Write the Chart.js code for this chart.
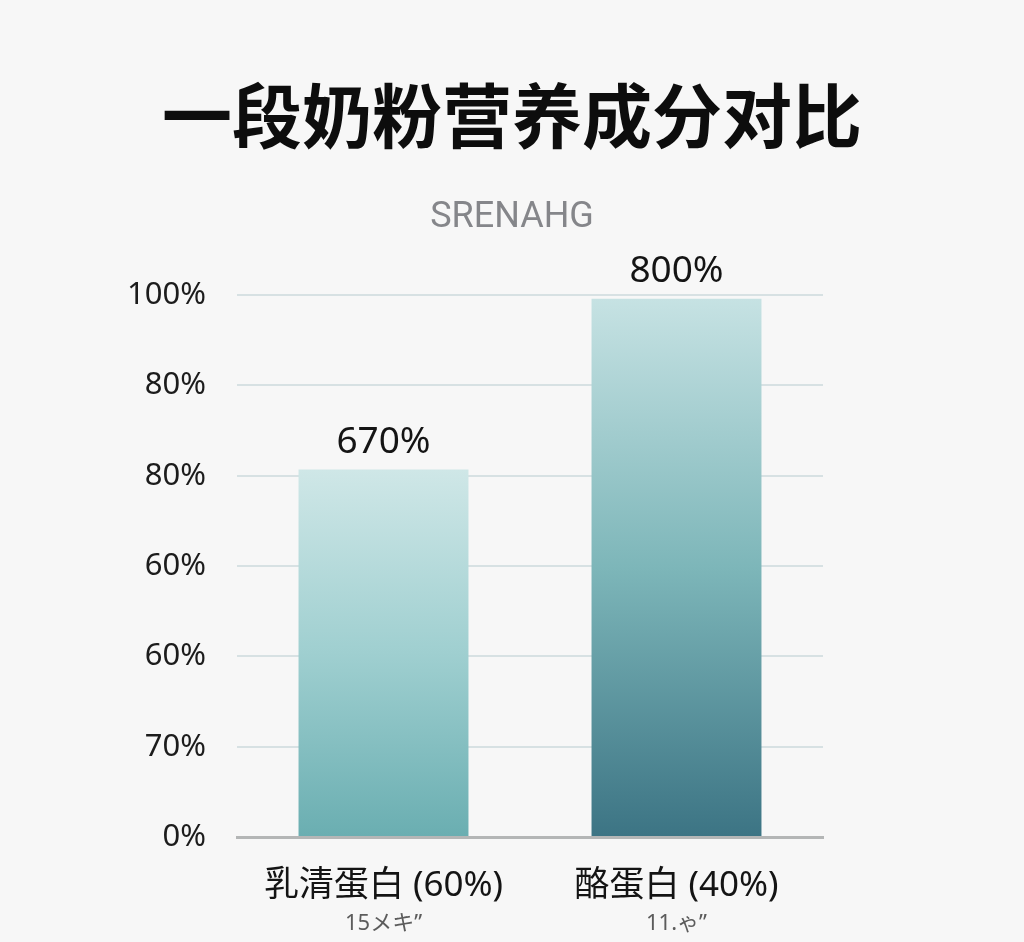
<!DOCTYPE html>
<html>
<head>
<meta charset="utf-8">
<script src="https://cdn.jsdelivr.net/npm/chart.js@4"></script>
<style>
  html, body { margin: 0; padding: 0; background: #f7f7f7; }
  #wrap { width: 1024px; height: 942px; }
</style>
</head>
<body>
<div id="wrap"><canvas id="myChart"></canvas></div>
<script>
const categories = ['乳清蛋白 (60%)', '酪蛋白 (40%)'];
const subLabels = ['15メキ”', '11.ゃ”'];
const barValues = [81.4, 119.2];
const valueLabels = ['670%', '800%'];
const tickLabels = ['0%', '70%', '60%', '60%', '80%', '80%', '100%'];

const gradTop = ['#cfe7e7', '#c6e2e3'];
const gradMid = ['#9fcfd0', '#7db6b9'];
const gradBottom = ['#6aaeb1', '#3c7484'];

const FONT = "'Noto Sans', 'Noto Sans CJK SC', sans-serif";

// value labels above bars + small text under the categories
const labelPlugin = {
  id: 'labelPlugin',
  afterDatasetsDraw(chart) {
    const ctx = chart.ctx;
    const meta = chart.getDatasetMeta(0);
    ctx.save();
    ctx.textAlign = 'center';
    ctx.textBaseline = 'bottom';
    ctx.fillStyle = '#141414';
    ctx.font = '37px ' + FONT;
    meta.data.forEach((bar, i) => {
      ctx.fillText(valueLabels[i], bar.x, bar.y - 9);
    });
    ctx.font = '22px ' + FONT;
    ctx.fillStyle = '#5c5c5c';
    ctx.textBaseline = 'middle';
    categories.forEach((c, i) => {
      const x = chart.scales.x.getPixelForValue(i);
      ctx.fillText(subLabels[i], x, 924);
    });
    ctx.restore();
  }
};

const ctx = document.getElementById('myChart');
new Chart(ctx, {
  type: 'bar',
  data: {
    labels: categories,
    datasets: [{
      data: barValues,
      borderWidth: 0,
      categoryPercentage: 1,
      barPercentage: 0.58,
      backgroundColor: (context) => {
        const chart = context.chart;
        const area = chart.chartArea;
        if (!area) return gradBottom[context.dataIndex];
        const i = context.dataIndex;
        const yTop = chart.scales.y.getPixelForValue(barValues[i]);
        const g = chart.ctx.createLinearGradient(0, yTop, 0, area.bottom);
        g.addColorStop(0, gradTop[i]);
        g.addColorStop(0.5, gradMid[i]);
        g.addColorStop(1, gradBottom[i]);
        return g;
      }
    }]
  },
  options: {
    responsive: true,
    maintainAspectRatio: false,
    animation: false,
    layout: { padding: { left: 0, right: 0, bottom: 15 } },
    plugins: {
      legend: { display: false },
      tooltip: { enabled: false },
      title: {
        display: true,
        text: '一段奶粉营养成分对比',
        color: '#0d0d0d',
        font: { family: "'Noto Sans CJK SC', sans-serif", size: 70, weight: 'bold', lineHeight: 1.2 },
        padding: { top: 74, bottom: 38 }
      },
      subtitle: {
        display: true,
        text: 'SRENAHG',
        color: '#85868a',
        font: { family: "Roboto, 'Noto Sans', sans-serif", size: 36, lineHeight: 1.2 },
        padding: { top: 0, bottom: 56 }
      }
    },
    scales: {
      x: {
        grid: { display: false },
        border: { color: '#b4b6b6', width: 3 },
        ticks: {
          color: '#141414',
          padding: 20,
          font: { family: FONT, size: 35 }
        }
      },
      y: {
        min: 0,
        max: 120,
        afterFit(scale) { scale.width = 237; },
        border: { display: false },
        grid: { color: '#d7e1e3', lineWidth: 2, drawTicks: false },
        ticks: {
          stepSize: 20,
          color: '#1c1c1c',
          padding: 31,
          font: { family: FONT, size: 31 },
          callback: (v, i) => tickLabels[i]
        }
      },
      yRight: {
        position: 'right',
        min: 0,
        max: 120,
        afterFit(scale) { scale.width = 201; },
        border: { display: false },
        grid: { display: false },
        ticks: { display: false }
      }
    }
  },
  plugins: [labelPlugin]
});
</script>
</body>
</html>
